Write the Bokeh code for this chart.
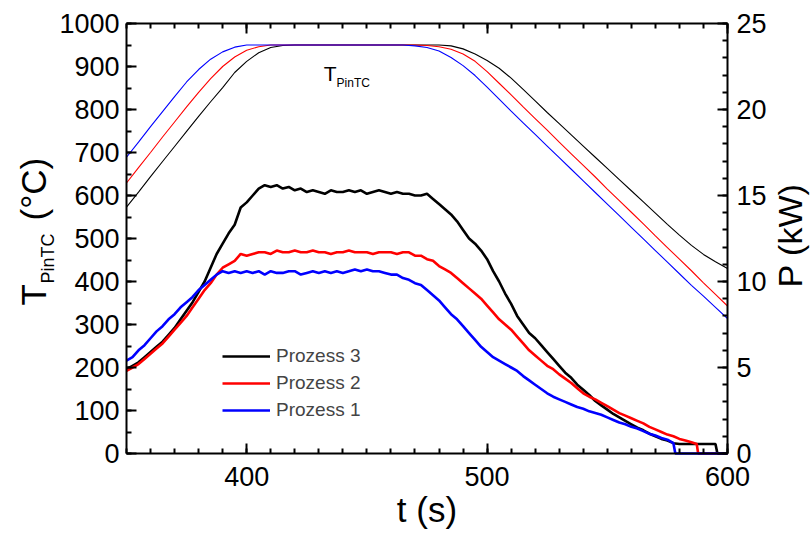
import numpy as np
from bokeh.plotting import figure
from bokeh.models import (Range1d, LinearAxis, SingleIntervalTicker, Label,
                          Legend, LegendItem, CustomJSTickFormatter)
from bokeh.embed import file_html
from bokeh.resources import INLINE

FONT = "Liberation Sans"

# ---------------- data ----------------
# time grid of the temperature curves (s)
t_T = [350, 355, 360, 365, 370, 375, 380, 385, 390, 395,
       400, 405, 410, 415, 420, 425, 430, 435, 440, 445,
       450, 455, 460, 465, 470, 475, 480, 485, 490, 495,
       500, 505, 510, 515, 520, 525, 530, 535, 540, 545,
       550, 555, 560, 565, 570, 575, 580, 585, 590, 595, 600]

# T_PinTC (°C)
T_proz3 = [573, 608, 644, 679, 714, 749, 784, 818, 851, 886,
           912, 932, 944, 949, 950, 950, 950, 950, 950, 950,
           950, 950, 950, 950, 950, 950, 950, 948, 941, 929,
           914, 896, 873, 847, 820, 793, 767, 741, 715, 689,
           663, 637, 611, 585, 559, 533, 508, 484, 463, 446, 430]
T_proz2 = [629, 665, 700, 736, 771, 806, 840, 872, 900, 922,
           938, 946, 950, 950, 950, 950, 950, 950, 950, 950,
           950, 950, 950, 950, 950, 949, 946, 940, 929, 912,
           888, 861, 834, 806, 779, 752, 724, 697, 670, 643,
           615, 588, 561, 534, 506, 479, 452, 425, 397, 370, 343]
T_proz1 = [689, 724, 760, 795, 830, 864, 893, 917, 934, 945,
           950, 950, 950, 950, 950, 950, 950, 950, 950, 950,
           950, 950, 950, 950, 948, 944, 936, 921, 902, 879,
           852, 824, 796, 769, 742, 715, 688, 661, 634, 607,
           580, 553, 526, 499, 472, 445, 418, 391, 366, 340, 314]

# time grid of the power curves (s)
t_grid = [350, 352.5, 355, 357.5, 360, 362.5, 365, 367.5, 370, 372.5,
          375, 377.5, 380, 382.5, 385, 387.5, 390, 392.5, 395, 397.5,
          400, 402.5, 405, 407.5, 410, 412.5, 415, 417.5, 420, 422.5,
          425, 427.5, 430, 432.5, 435, 437.5, 440, 442.5, 445, 447.5,
          450, 452.5, 455, 457.5, 460, 462.5, 465, 467.5, 470, 472.5,
          475, 477.5, 480, 482.5, 485, 487.5, 490, 492.5, 495, 497.5,
          500, 502.5, 505, 507.5, 510, 512.5, 515, 517.5, 520, 522.5,
          525, 527.5, 530, 532.5, 535, 537.5, 540, 542.5, 545, 547.5,
          550, 552.5, 555, 557.5, 560, 562.5, 565, 567.5, 570, 572.5,
          575, 577.5, 580, 582.5, 585, 587.5, 590, 592.5, 595]

# P (kW)
t_P3 = t_grid + [595.8, 600]
P_proz3 = [4.9, 5.1, 5.3, 5.6, 5.9, 6.2, 6.5, 6.9, 7.3, 7.8,
           8.3, 8.8, 9.4, 10.0, 10.8, 11.6, 12.2, 12.8, 13.3, 14.3,
           14.6, 15.0, 15.4, 15.6, 15.5, 15.6, 15.4, 15.5, 15.3, 15.4,
           15.2, 15.3, 15.2, 15.1, 15.3, 15.2, 15.2, 15.3, 15.2, 15.3,
           15.1, 15.2, 15.3, 15.2, 15.1, 15.2, 15.1, 15.1, 15.0, 15.0,
           15.1, 14.8, 14.5, 14.2, 13.9, 13.5, 13.0, 12.5, 12.2, 11.8,
           11.3, 10.6, 10.0, 9.3, 8.7, 8.0, 7.5, 7.0, 6.7, 6.3,
           5.9, 5.5, 5.1, 4.7, 4.4, 4.0, 3.7, 3.4, 3.05, 2.8,
           2.55, 2.3, 2.1, 1.9, 1.7, 1.5, 1.35, 1.15, 1.0, 0.85,
           0.75, 0.6, 0.55, 0.55, 0.55, 0.55, 0.55, 0.55, 0.55,
           0.0, 0.0]

t_P2 = t_grid[:95] + [587.2, 587.8, 600]
P_proz2 = [4.8, 5.0, 5.2, 5.5, 5.8, 6.1, 6.4, 6.8, 7.2, 7.6,
           8.0, 8.5, 9.0, 9.5, 9.9, 10.4, 10.8, 11.0, 11.2, 11.6,
           11.5, 11.6, 11.7, 11.7, 11.6, 11.8, 11.7, 11.7, 11.8, 11.7,
           11.7, 11.8, 11.7, 11.7, 11.6, 11.7, 11.7, 11.8, 11.7, 11.7,
           11.7, 11.6, 11.7, 11.7, 11.7, 11.6, 11.7, 11.7, 11.5, 11.5,
           11.3, 11.2, 10.9, 10.7, 10.5, 10.2, 9.9, 9.6, 9.3, 9.0,
           8.6, 8.2, 7.8, 7.5, 7.2, 6.8, 6.4, 6.0, 5.7, 5.4,
           5.1, 4.9, 4.6, 4.35, 4.1, 3.8, 3.5, 3.3, 3.15, 2.95,
           2.75, 2.55, 2.35, 2.2, 2.05, 1.9, 1.75, 1.55, 1.4, 1.25,
           1.1, 1.0, 0.85, 0.75, 0.65,
           0.55, 0.0, 0.0]

t_P1 = t_grid[:92] + [578.3, 600]
P_proz1 = [5.4, 5.6, 6.0, 6.3, 6.7, 7.1, 7.4, 7.8, 8.1, 8.5,
           8.8, 9.1, 9.5, 9.8, 10.1, 10.4, 10.6, 10.5, 10.6, 10.5,
           10.6, 10.5, 10.6, 10.4, 10.6, 10.5, 10.5, 10.6, 10.6, 10.4,
           10.5, 10.6, 10.5, 10.6, 10.5, 10.6, 10.5, 10.6, 10.7, 10.6,
           10.7, 10.6, 10.6, 10.5, 10.4, 10.4, 10.2, 10.1, 9.9, 9.8,
           9.5, 9.2, 8.9, 8.5, 8.1, 7.8, 7.4, 7.0, 6.6, 6.2,
           5.9, 5.6, 5.4, 5.2, 5.0, 4.8, 4.5, 4.25, 4.0, 3.75,
           3.5, 3.3, 3.15, 3.0, 2.85, 2.7, 2.6, 2.45, 2.35, 2.25,
           2.1, 1.95, 1.8, 1.7, 1.55, 1.45, 1.3, 1.15, 1.05, 0.9,
           0.8, 0.6,
           0.0, 0.0]

labels = ["Prozess 3", "Prozess 2", "Prozess 1"]
colors = ["#000000", "#ff0000", "#0000ff"]

X_LIM = (350, 600)
T_LIM = (0, 1000)
P_LIM = (0, 25)

# ---------------- layout (pixels) ----------------
W, H = 812, 535
PL, PR, PT, PB = 126, 727, 23, 453      # plot box in canvas pixels

sx = (PR - PL) / (X_LIM[1] - X_LIM[0])
sy = (PB - PT) / (T_LIM[1] - T_LIM[0])
x_rng = Range1d(X_LIM[0] - PL / sx, X_LIM[1] + (W - PR) / sx)
y_rng = Range1d(T_LIM[0] - (H - PB) / sy, T_LIM[1] + PT / sy)
kP = (P_LIM[1] - P_LIM[0]) / (T_LIM[1] - T_LIM[0])
p_rng = Range1d(y_rng.start * kP, y_rng.end * kP)

p = figure(width=W, height=H, min_border=0, x_range=x_rng, y_range=y_rng,
           output_backend="svg", toolbar_location=None, title=None)
p.extra_y_ranges = {"P": p_rng}
p.grid.visible = False
p.outline_line_color = None
p.background_fill_color = "white"
p.border_fill_color = "white"


def style_axis(ax, size="27px"):
    ax.axis_line_width = 2
    ax.axis_line_color = "black"
    ax.major_tick_in = 10
    ax.major_tick_out = 0
    ax.minor_tick_in = 5
    ax.minor_tick_out = 0
    ax.major_tick_line_width = 2
    ax.minor_tick_line_width = 2
    ax.major_tick_line_color = "black"
    ax.minor_tick_line_color = "black"
    ax.major_label_text_font = FONT
    ax.major_label_text_font_size = size
    ax.major_label_text_color = "black"


xb = p.xaxis[0]
xb.ticker = SingleIntervalTicker(interval=100, num_minor_ticks=10)
xb.fixed_location = T_LIM[0]
xb.bounds = X_LIM
style_axis(xb)
xb.major_label_standoff = 13

yl = p.yaxis[0]
yl.ticker = SingleIntervalTicker(interval=100, num_minor_ticks=2)
yl.fixed_location = X_LIM[0]
yl.bounds = T_LIM
style_axis(yl)
yl.major_label_standoff = 7

xt = LinearAxis(ticker=SingleIntervalTicker(interval=100, num_minor_ticks=10),
                formatter=CustomJSTickFormatter(code="return ''"),
                fixed_location=T_LIM[1], bounds=X_LIM)
style_axis(xt)
xt.major_label_standoff = 0
p.add_layout(xt, "above")

yr = LinearAxis(y_range_name="P",
                ticker=SingleIntervalTicker(interval=5, num_minor_ticks=5),
                fixed_location=X_LIM[1], bounds=P_LIM)
style_axis(yr)
yr.major_label_standoff = 9
p.add_layout(yr, "right")

# temperature curves (thin)
for T, c in [(T_proz3, colors[0]), (T_proz2, colors[1]), (T_proz1, colors[2])]:
    p.line(t_T, T, line_color=c, line_width=1.1)

# power curves (thick)
r3 = p.line(t_P3, P_proz3, line_color=colors[0], line_width=2.6, y_range_name="P")
r2 = p.line(t_P2, P_proz2, line_color=colors[1], line_width=2.6, y_range_name="P")
r1 = p.line(t_P1, P_proz1, line_color=colors[2], line_width=2.6, y_range_name="P")

legend = Legend(items=[LegendItem(label=labels[0], renderers=[r3]),
                       LegendItem(label=labels[1], renderers=[r2]),
                       LegendItem(label=labels[2], renderers=[r1])],
                location=(222, H - 421), padding=0, margin=0, spacing=5,
                glyph_width=48, glyph_height=20, label_height=20,
                label_standoff=6, label_text_font=FONT,
                label_text_font_size="19px", border_line_color=None,
                background_fill_alpha=0)
p.add_layout(legend)


def lab(text, x, y, size, units="screen", angle=0.0, align="left"):
    return Label(x=x, y=y, x_units=units, y_units=units, text=text,
                 angle=angle, text_font=FONT, text_font_size=size,
                 text_align=align, text_baseline="alphabetic",
                 text_color="black")


# in-plot annotation T_PinTC
p.add_layout(lab("T", 432, 883, "21px", units="data"))
p.add_layout(lab("PinTC", 437.4, 862, "12px", units="data"))

# axis titles (screen px from the canvas' bottom-left corner)
p.add_layout(lab("T", 33, H - 305, "35px", angle=np.pi / 2))
p.add_layout(lab("PinTC", 47, H - 283, "18px", angle=np.pi / 2))
p.add_layout(lab("(°C)", 33, H - 220, "35px", angle=np.pi / 2))
p.add_layout(lab("P (kW)", 789, H - 235, "34px", angle=np.pi / 2, align="center"))
p.add_layout(lab("t (s)", (PL + PR) / 2, H - 508.5, "35px", align="center"))

open("out.html", "w").write(file_html(p, INLINE))
